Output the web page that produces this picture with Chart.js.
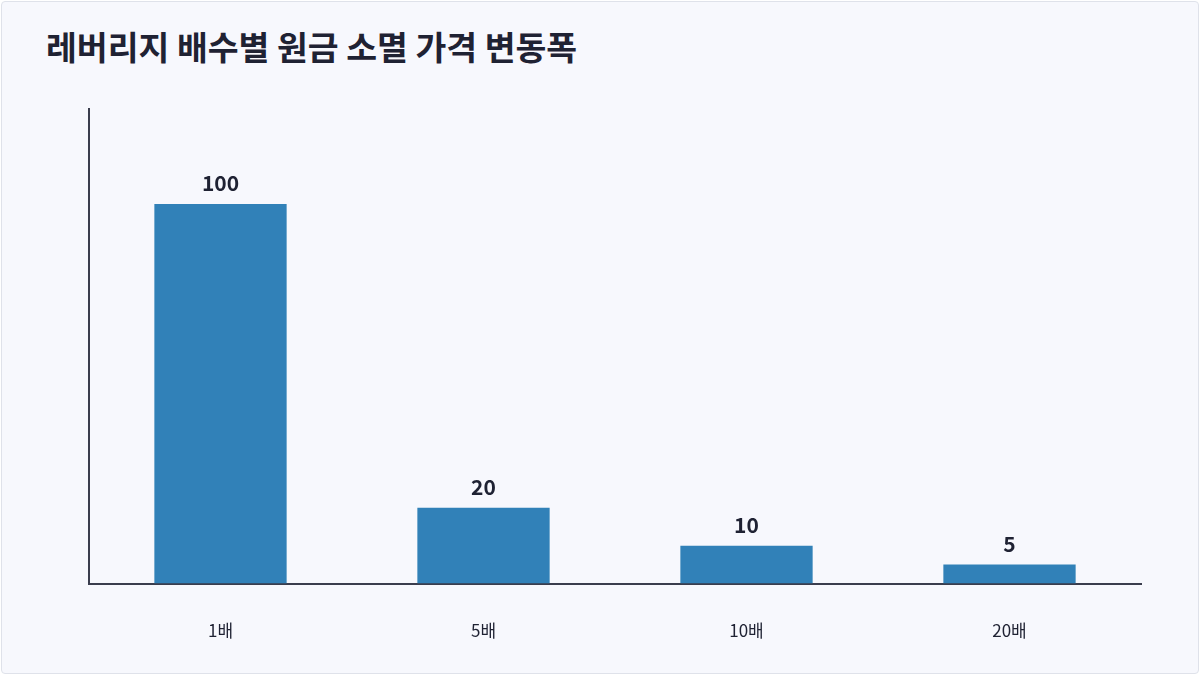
<!DOCTYPE html>
<html><head><meta charset="utf-8">
<script src="https://cdn.jsdelivr.net/npm/chart.js@4"></script>
<style>
html,body{margin:0;padding:0;background:#fff;}
#wrap{position:absolute;left:1px;top:1px;width:1196px;height:671px;background:#f7f8fd;border:1px solid #dfe2ea;border-radius:4px;}
#title{position:absolute;left:44px;top:20px;font-family:"Noto Sans CJK KR";font-weight:700;font-size:33.5px;line-height:48px;color:#1f2233;}
#c{position:absolute;left:0;top:0;}
</style></head><body>
<div id="wrap"><div id="title">레버리지 배수별 원금 소멸 가격 변동폭</div></div>
<canvas id="c" width="1200" height="675"></canvas>
<script>
const categories = ["1배","5배","10배","20배"];
const values = [100,20,10,5];
const valueLabels = ["100","20","10","5"];
const labelPlugin = {
  id:'lbl',
  afterDatasetsDraw(chart){
    const ctx=chart.ctx, meta=chart.getDatasetMeta(0);
    ctx.save();
    ctx.font='700 21px "Noto Sans CJK KR"';
    ctx.fillStyle='#1f2233';ctx.textAlign='center';ctx.textBaseline='bottom';
    meta.data.forEach((b,i)=>ctx.fillText(valueLabels[i],b.x,b.y-10));
    ctx.restore();
  }
};
new Chart(document.getElementById('c'),{
  type:'bar',
  data:{labels:categories,datasets:[{data:values,backgroundColor:'#3181b8',barPercentage:0.503,categoryPercentage:1}]},
  options:{
    responsive:false,animation:false,devicePixelRatio:1,
    layout:{padding:{left:89,right:59,top:109,bottom:-3}},
    plugins:{legend:{display:false},tooltip:{enabled:false}},
    scales:{
      x:{grid:{display:false,drawTicks:false},border:{color:'#3a3d4d',width:2},
         ticks:{padding:37,color:'#1f2233',font:{family:'"Noto Sans CJK KR"',size:17}}},
      y:{min:0,max:125,grid:{display:false,drawTicks:false},border:{color:'#3a3d4d',width:2},
         ticks:{display:false}}
    }
  },
  plugins:[labelPlugin]
});
</script></body></html>
